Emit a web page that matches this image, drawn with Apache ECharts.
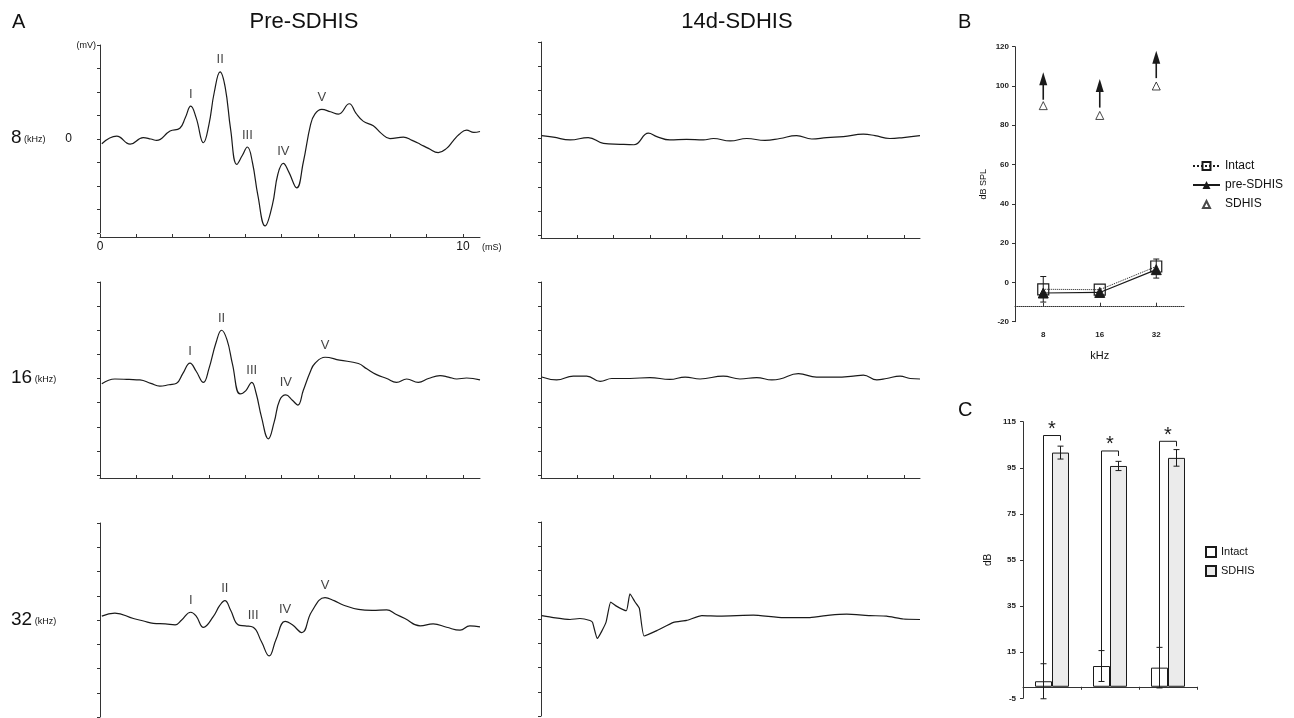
<!DOCTYPE html>
<html><head><meta charset="utf-8">
<script src="https://cdn.jsdelivr.net/npm/echarts@6/dist/echarts.min.js"></script>
<style>html,body{margin:0;padding:0;background:#fff}#c{width:1294px;height:718px}</style>
</head><body><div id="c"></div>
<script>
// ---------- Panel A: ABR traces, [time (ms), amplitude (mV)] ----------
const pre8 = [[0.05,-0.10],[0.46,0.06],[0.83,-0.11],[1.19,0.03],[1.4,0.0],[1.56,-0.03],[1.93,0.17],[2.2,0.23],[2.35,0.45],[2.5,0.70],[2.65,0.45],[2.85,-0.08],[3.0,0.3],[3.15,1.0],[3.31,1.43],[3.45,1.1],[3.6,0.2],[3.77,-0.54],[3.92,-0.35],[4.06,-0.17],[4.2,-0.5],[4.35,-1.2],[4.55,-1.85],[4.75,-1.4],[4.9,-0.75],[5.05,-0.52],[5.2,-0.7],[5.42,-1.04],[5.6,-0.5],[5.8,0.3],[5.92,0.53],[6.11,0.63],[6.35,0.58],[6.57,0.53],[6.87,0.75],[7.05,0.55],[7.25,0.38],[7.53,0.28],[7.75,0.12],[7.99,0.01],[8.36,0.04],[8.6,-0.03],[8.82,-0.11],[9.05,-0.2],[9.32,-0.29],[9.55,-0.2],[9.73,-0.04],[9.9,0.1],[10.1,0.19],[10.3,0.14],[10.47,0.16]];
const pre16 = [[0.05,-0.11],[0.41,-0.01],[0.8,-0.02],[1.1,-0.03],[1.4,-0.1],[1.65,-0.16],[1.9,-0.13],[2.11,-0.1],[2.28,0.1],[2.48,0.32],[2.65,0.15],[2.85,-0.08],[3.0,0.2],[3.2,0.75],[3.35,1.0],[3.5,0.8],[3.65,0.3],[3.86,-0.32],[4.02,-0.25],[4.18,-0.08],[4.3,-0.3],[4.45,-0.8],[4.64,-1.25],[4.8,-0.9],[4.95,-0.45],[5.12,-0.34],[5.3,-0.45],[5.45,-0.55],[5.6,-0.25],[5.8,0.15],[5.92,0.31],[6.2,0.44],[6.6,0.38],[7.12,0.31],[7.35,0.2],[7.62,0.08],[7.9,0.0],[8.17,-0.08],[8.45,-0.01],[8.77,-0.08],[9.05,0.0],[9.37,0.06],[9.6,0.03],[9.83,-0.01],[10.1,0.01],[10.47,-0.03]];
const pre32 = [[0.05,0.08],[0.41,0.14],[0.92,0.03],[1.2,-0.02],[1.47,-0.07],[1.8,-0.08],[2.07,-0.10],[2.25,0.0],[2.5,0.16],[2.65,0.08],[2.85,-0.15],[3.12,0.07],[3.3,0.3],[3.44,0.40],[3.6,0.2],[3.81,-0.1],[4.0,-0.12],[4.22,-0.15],[4.45,-0.45],[4.66,-0.74],[4.85,-0.4],[5.1,-0.03],[5.3,-0.1],[5.56,-0.26],[5.83,0.17],[6.2,0.46],[6.45,0.4],[6.7,0.31],[7.12,0.22],[7.5,0.2],[7.9,0.21],[8.15,0.12],[8.4,0.03],[8.82,-0.12],[9.18,-0.08],[9.55,-0.15],[9.92,-0.21],[10.19,-0.12],[10.47,-0.14]];
const post8 = [[0.02,0.06],[0.34,0.03],[0.8,-0.03],[1.3,0.02],[1.72,-0.1],[2.18,-0.12],[2.56,-0.13],[2.96,0.11],[3.19,0.04],[3.55,-0.03],[4.01,-0.02],[4.47,-0.03],[4.75,0.0],[5.21,-0.05],[5.67,0.0],[6.17,-0.04],[6.58,0.0],[7.04,0.06],[7.46,-0.01],[7.87,0.02],[8.33,0.04],[8.88,0.09],[9.2,0.06],[9.61,0.0],[9.98,0.02],[10.44,0.06]];
const post16 = [[0.02,0.03],[0.43,-0.03],[0.89,0.05],[1.26,0.05],[1.63,-0.06],[1.95,0.0],[2.45,0.0],[3.0,0.02],[3.55,-0.02],[3.97,0.03],[4.38,-0.01],[5.02,0.05],[5.48,-0.01],[5.94,0.02],[6.36,-0.03],[6.58,-0.01],[7.09,0.1],[7.59,0.03],[8.14,0.03],[8.6,0.05],[8.88,0.07],[9.25,-0.03],[9.52,0.0],[9.89,0.05],[10.17,0.0],[10.44,-0.01]];
const post32 = [[0.02,0.07],[0.34,0.03],[0.8,-0.01],[1.07,0.01],[1.35,-0.03],[1.42,-0.07],[1.55,-0.40],[1.79,-0.07],[1.92,0.35],[2.09,0.26],[2.35,0.17],[2.45,0.52],[2.59,0.35],[2.71,0.22],[2.84,-0.35],[3.19,-0.24],[3.65,-0.07],[4.01,-0.03],[4.43,0.07],[4.93,0.06],[5.85,0.08],[6.67,0.03],[7.41,0.03],[7.96,0.08],[8.42,0.1],[9.06,0.07],[9.52,0.06],[9.98,0.0],[10.44,-0.01]];
// wave peaks (I..V) on the pre-SDHIS traces
const peakNames = ['I','II','III','IV','V'];
const pre8Peaks = [[2.5,0.70],[3.31,1.43],[4.06,-0.17],[5.05,-0.52],[6.11,0.63]];
const pre16Peaks = [[2.48,0.32],[3.35,1.0],[4.18,-0.08],[5.12,-0.34],[6.2,0.44]];
const pre32Peaks = [[2.5,0.16],[3.44,0.40],[4.22,-0.15],[5.1,-0.03],[6.2,0.46]];
const rowFreqs = ['8','16','32'];
const msTicks = [0,1,2,3,4,5,6,7,8,9,10];
const msLabels = [0,10];
const mvTicks = [-2,-1.5,-1,-0.5,0,0.5,1,1.5,2];

// ---------- Panel B: thresholds (dB SPL) ----------
const kHzCats = ['8','16','32'];
const bIntact = [-3.5, -3.7, 8.1];
const bPre = [-5.4, -5.1, 6.5];
const bSdhis = [90, 85, 100];
const bArrowFrom = [93, 89, 104];
const bArrowTo = [107, 103.5, 118];
const bIntactErrLow = [-10, null, 2.2];
const bIntactErrHigh = [3, null, 11.9];

// ---------- Panel C: bars (dB) ----------
const cIntact = [2.4, 9.0, 8.3];
const cIntactErr = [7.6, 6.7, 8.8];
const cSdhis = [101.6, 95.8, 99.3];
const cSdhisErr = [2.8, 2.0, 3.6];
const cSigTop = [109, 102.3, 106.5];

const FONT = '"Liberation Sans", Helvetica, Arial, sans-serif';
const INK = '#1a1a1a';
const AX = '#333';

const chart = echarts.init(document.getElementById('c'), null, {renderer: 'canvas'});

// grids: 0..5 Panel A, 6 Panel B, 7 Panel C
const grids = [
  {left:100, top:45, width:380, height:188},
  {left:541, top:42, width:379, height:193},
  {left:100, top:282, width:380, height:193},
  {left:541, top:282, width:379, height:193},
  {left:100, top:523, width:380, height:194},
  {left:541, top:522, width:379, height:194},
  {left:1015, top:46.7, width:169.5, height:275},
  {left:1023, top:421.7, width:174, height:276.6}
].map(g => Object.assign({outerBoundsMode:'none', containLabel:false}, g));

const xAxes = [], yAxes = [], series = [];
const traces = [pre8, post8, pre16, post16, pre32, post32];
const peaks = [pre8Peaks, null, pre16Peaks, null, pre32Peaks, null];
for (let i = 0; i < 6; i++) {
  const row = Math.floor(i / 2), isPre = i % 2 === 0;
  xAxes.push({
    gridIndex: i, type: 'value', min: 0, max: isPre ? 10.47 : 10.44,
    offset: i === 0 ? 4 : 3,
    axisLine: {show: row < 2, onZero: false, lineStyle: {color: AX, width: 1}},
    axisTick: {show: row < 2, length: 3, inside: true, customValues: msTicks, lineStyle: {color: AX}},
    axisLabel: {show: i === 0, customValues: msLabels, margin: 4, fontSize: 12, color: '#111', fontFamily: FONT},
    splitLine: {show: false}
  });
  yAxes.push({
    gridIndex: i, type: 'value', min: -2, max: 2, interval: 0.5,
    axisLine: {show: true, onZero: false, lineStyle: {color: AX, width: 1}},
    axisTick: {show: true, length: 3, customValues: mvTicks, lineStyle: {color: AX}},
    axisLabel: {show: i === 0, customValues: [0], margin: 28, fontSize: 12, color: '#111', fontFamily: FONT},
    splitLine: {show: false}
  });
  series.push({
    type: 'line', xAxisIndex: i, yAxisIndex: i, data: traces[i],
    showSymbol: false, smooth: i === 5 ? 0.15 : 0.45, animation: false,
    lineStyle: {color: INK, width: 1.2}, z: 3
  });
  if (peaks[i]) {
    series.push({
      type: 'scatter', xAxisIndex: i, yAxisIndex: i, data: peaks[i],
      symbolSize: 1, itemStyle: {color: 'rgba(0,0,0,0)'}, silent: true,
      label: {show: true, position: 'top', distance: 5, fontSize: 13, color: '#111', fontFamily: FONT,
        formatter: p => peakNames[p.dataIndex]}
    });
  }
}

// Panel B axes
xAxes.push({
  gridIndex: 6, type: 'category', data: kHzCats, offset: -15,
  axisLine: {show: true, onZero: false, lineStyle: {color: AX, width: 1, type: 'dotted'}},
  axisTick: {show: true, alignWithLabel: true, inside: true, length: 4, lineStyle: {color: AX}},
  axisLabel: {margin: 24, fontSize: 8, fontWeight: 'bold', color: '#222', fontFamily: FONT},
  name: 'kHz', nameLocation: 'middle', nameGap: 44,
  nameTextStyle: {fontSize: 11, color: '#111', fontFamily: FONT}
});
yAxes.push({
  gridIndex: 6, type: 'value', min: -20, max: 120, interval: 20,
  axisLine: {show: true, onZero: false, lineStyle: {color: AX, width: 1}},
  axisTick: {show: true, length: 3, lineStyle: {color: AX}},
  axisLabel: {margin: 6, fontSize: 8, fontWeight: 'bold', color: '#222', fontFamily: FONT},
  splitLine: {show: false},
  name: 'dB SPL', nameLocation: 'middle', nameRotate: 90, nameGap: 27,
  nameTextStyle: {fontSize: 9, color: '#111', fontFamily: FONT}
});
// Panel C axes
xAxes.push({
  gridIndex: 7, type: 'category', data: kHzCats,
  axisLine: {show: true, onZero: true, lineStyle: {color: AX, width: 1}},
  axisTick: {show: true, length: 3, lineStyle: {color: AX}},
  axisLabel: {margin: 22, fontSize: 8, fontWeight: 'bold', color: '#222', fontFamily: FONT}
});
yAxes.push({
  gridIndex: 7, type: 'value', min: -5, max: 115, interval: 20,
  axisLine: {show: true, onZero: false, lineStyle: {color: AX, width: 1}},
  axisTick: {show: true, length: 3, lineStyle: {color: AX}},
  axisLabel: {margin: 7, fontSize: 8, fontWeight: 'bold', color: '#222', fontFamily: FONT},
  splitLine: {show: false},
  name: 'dB', nameLocation: 'middle', nameRotate: 90, nameGap: 30,
  nameTextStyle: {fontSize: 10, color: '#111', fontFamily: FONT}
});

function errBarRender(offsetPx, cap) {
  return function (params, api) {
    const c = api.value(0);
    const pLo = api.coord([c, api.value(1)]);
    const pHi = api.coord([c, api.value(2)]);
    const x = pLo[0] + offsetPx;
    const st = {stroke: INK, lineWidth: 1};
    return {type: 'group', children: [
      {type: 'line', shape: {x1: x, y1: pLo[1], x2: x, y2: pHi[1]}, style: st},
      {type: 'line', shape: {x1: x - cap, y1: pHi[1], x2: x + cap, y2: pHi[1]}, style: st},
      {type: 'line', shape: {x1: x - cap, y1: pLo[1], x2: x + cap, y2: pLo[1]}, style: st}
    ]};
  };
}

// Panel B series
series.push({
  name: 'Intact', type: 'line', xAxisIndex: 6, yAxisIndex: 6, data: bIntact,
  symbol: 'rect', symbolSize: 11, z: 4,
  lineStyle: {color: INK, width: 1, type: 'dotted'},
  itemStyle: {color: 'rgba(255,255,255,0)', borderColor: INK, borderWidth: 1.2}
});
series.push({
  name: 'pre-SDHIS', type: 'line', xAxisIndex: 6, yAxisIndex: 6, data: bPre,
  symbol: 'triangle', symbolSize: 10, z: 5,
  lineStyle: {color: INK, width: 1.2},
  itemStyle: {color: INK, borderColor: INK}
});
series.push({
  name: 'SDHIS', type: 'scatter', xAxisIndex: 6, yAxisIndex: 6, data: bSdhis,
  symbol: 'triangle', symbolSize: 8, z: 5,
  itemStyle: {color: '#fff', borderColor: INK, borderWidth: 1}
});
series.push({
  type: 'custom', xAxisIndex: 6, yAxisIndex: 6, silent: true, z: 3,
  data: bIntactErrLow.map((lo, i) => lo === null ? null : [i, lo, bIntactErrHigh[i]]).filter(d => d),
  encode: {x: 0, y: [1, 2]},
  renderItem: errBarRender(0, 3)
});
series.push({
  type: 'custom', xAxisIndex: 6, yAxisIndex: 6, silent: true, z: 4,
  data: bArrowFrom.map((f, i) => [i, f, bArrowTo[i]]),
  encode: {x: 0, y: [1, 2]},
  renderItem: function (params, api) {
    const c = api.value(0);
    const p0 = api.coord([c, api.value(1)]);
    const p1 = api.coord([c, api.value(2)]);
    const x = p0[0], head = 13, hw = 4;
    return {type: 'group', children: [
      {type: 'line', shape: {x1: x, y1: p0[1], x2: x, y2: p1[1] + head - 1}, style: {stroke: INK, lineWidth: 1.6}},
      {type: 'polygon', shape: {points: [[x, p1[1]], [x - hw, p1[1] + head], [x + hw, p1[1] + head]]}, style: {fill: INK}}
    ]};
  }
});

// Panel C series
const C_BAR_W = 17;
series.push({
  name: 'C-Intact', type: 'bar', xAxisIndex: 7, yAxisIndex: 7, data: cIntact,
  barWidth: C_BAR_W, barGap: '0%',
  itemStyle: {color: '#fff', borderColor: INK, borderWidth: 1}
});
series.push({
  name: 'C-SDHIS', type: 'bar', xAxisIndex: 7, yAxisIndex: 7, data: cSdhis,
  barWidth: C_BAR_W, barGap: '0%',
  itemStyle: {color: '#ebebeb', borderColor: INK, borderWidth: 1}
});
series.push({
  type: 'custom', xAxisIndex: 7, yAxisIndex: 7, silent: true, z: 4,
  data: cIntact.map((m, i) => [i, m - cIntactErr[i], m + cIntactErr[i]]),
  encode: {x: 0, y: [1, 2]},
  renderItem: errBarRender(-C_BAR_W / 2, 3)
});
series.push({
  type: 'custom', xAxisIndex: 7, yAxisIndex: 7, silent: true, z: 4,
  data: cSdhis.map((m, i) => [i, m - cSdhisErr[i], m + cSdhisErr[i]]),
  encode: {x: 0, y: [1, 2]},
  renderItem: errBarRender(C_BAR_W / 2, 3)
});
series.push({
  type: 'custom', xAxisIndex: 7, yAxisIndex: 7, silent: true, z: 4,
  data: cSigTop.map((t, i) => [i, cIntact[i] + cIntactErr[i], t, cSdhis[i] + cSdhisErr[i]]),
  encode: {x: 0, y: [1, 2]},
  renderItem: function (params, api) {
    const c = api.value(0);
    const pL = api.coord([c, api.value(1)]);
    const pT = api.coord([c, api.value(2)]);
    const xl = pL[0] - C_BAR_W / 2, xr = pL[0] + C_BAR_W / 2;
    return {type: 'group', children: [
      {type: 'polyline', shape: {points: [[xl, pL[1]], [xl, pT[1]], [xr, pT[1]], [xr, pT[1] + 5]]},
        style: {stroke: INK, lineWidth: 1, fill: null}},
      {type: 'text', style: {text: '*', x: (xl + xr) / 2, y: pT[1] - 6, align: 'center', verticalAlign: 'middle',
        fontSize: 20, fontFamily: FONT, fill: INK}}
    ]};
  }
});

// text annotations
function txt(text, x, y, size, opts) {
  return {type: 'text', x: x, y: y, style: Object.assign({text: text, fontSize: size, fontFamily: FONT, fill: '#111', verticalAlign: 'middle'}, opts || {})};
}
const rowY = [138, 378, 620];
const graphics = [
  txt('A', 12, 22, 20),
  txt('B', 958, 22, 20),
  txt('C', 958, 410, 20),
  txt('Pre-SDHIS', 304, 22, 22, {align: 'center'}),
  txt('14d-SDHIS', 737, 22, 22, {align: 'center'}),
  txt('(mV)', 96, 46, 9, {align: 'right'}),
  txt('(mS)', 482, 248, 9)
];
rowFreqs.forEach((f, r) => {
  graphics.push({type: 'text', x: 11, y: rowY[r], style: {
    text: '{n|' + f + '}{k| (kHz)}', verticalAlign: 'middle', fill: '#111',
    rich: {n: {fontSize: 19, fontFamily: FONT, fill: '#111'}, k: {fontSize: 9, fontFamily: FONT, fill: '#111', padding: [3, 0, 0, 0]}}
  }});
});

const sdhisLegendIcon = 'path://M0,0 M10,10 M1.5,9 L5,2 L8.5,9 Z';

chart.setOption({
  animation: false,
  backgroundColor: '#fff',
  textStyle: {fontFamily: FONT},
  grid: grids,
  xAxis: xAxes,
  yAxis: yAxes,
  legend: [
    {left: 1192, top: 160, padding: 0, orient: 'vertical', itemWidth: 27, itemHeight: 10, itemGap: 7,
      data: ['Intact', 'pre-SDHIS', {name: 'SDHIS', icon: sdhisLegendIcon}], selectedMode: false,
      textStyle: {fontSize: 12, color: '#111', fontFamily: FONT}},
    {left: 1205, top: 546, padding: 0, orient: 'vertical', itemWidth: 10, itemHeight: 10, itemGap: 7, icon: 'rect',
      itemTextGap: 3,
      data: ['C-Intact', 'C-SDHIS'], selectedMode: false, formatter: n => n.slice(2),
      textStyle: {fontSize: 11, color: '#111', fontFamily: FONT}}
  ],
  graphic: graphics,
  series: series
});
</script></body></html>
